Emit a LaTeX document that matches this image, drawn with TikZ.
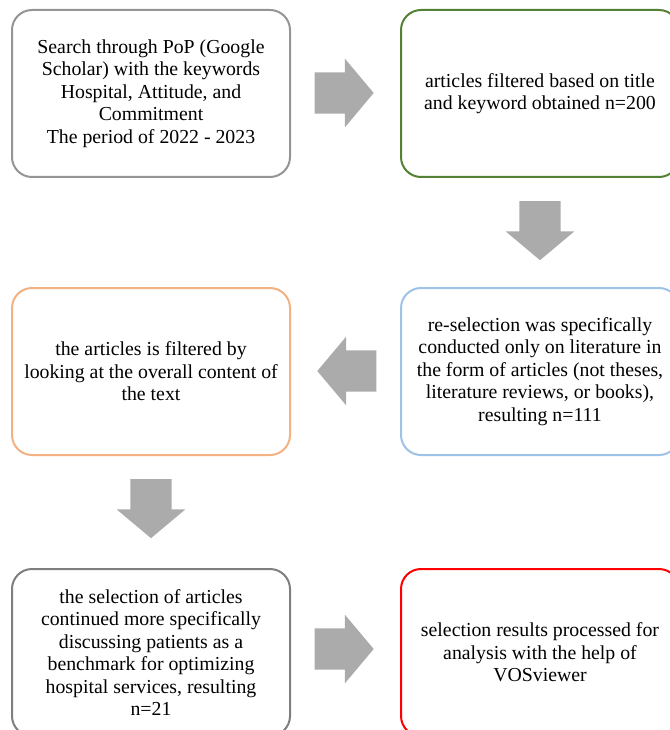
\documentclass[tikz,border=0pt]{standalone}
\usepackage{fontspec}
\setmainfont{Liberation Serif}
\usetikzlibrary{shapes.arrows,calc}

\definecolor{boxgray}{HTML}{959595}
\definecolor{boxgreen}{HTML}{548235}
\definecolor{boxorange}{HTML}{F4B183}
\definecolor{boxblue}{HTML}{9DC3E6}
\definecolor{boxdark}{HTML}{7F7F7F}
\definecolor{boxred}{HTML}{FF0000}
\definecolor{arrowgray}{HTML}{ABABAB}

\tikzset{
  stepbox/.style={draw, line width=2pt, rounded corners=20pt, minimum width=278pt,
    minimum height=167pt, align=center, inner sep=0pt,
    font=\fontsize{19.8}{22.5}\selectfont},
  blockarrow/.style={single arrow, fill=arrowgray, draw=none, inner xsep=0pt,
    inner ysep=20.5pt, minimum height=59pt, single arrow head extend=13.5pt,
    single arrow tip angle=100}
}

\begin{document}
\begin{tikzpicture}[x=1pt, y=-1pt]
  \useasboundingbox (0,0) rectangle (669,730);
  % boxes, row by row
  \node[stepbox, draw=boxgray] (search) at (151,93.5)
    {Search through PoP (Google\\Scholar) with the keywords\\Hospital, Attitude, and\\Commitment\\The period of 2022 - 2023};
  \node[stepbox, draw=boxgreen] (title) at (540,93.5)
    {articles filtered based on title\\and keyword obtained n=200};
  \node[stepbox, draw=boxblue] (reselect) at (540,371.5)
    {re-selection was specifically\\conducted only on literature in\\the form of articles (not theses,\\literature reviews, or books),\\resulting n=111};
  \node[stepbox, draw=boxorange] (content) at (151,371.5)
    {the articles is filtered by\\looking at the overall content of\\the text};
  \node[stepbox, draw=boxdark] (patients) at (151,652.5)
    {the selection of articles\\continued more specifically\\discussing patients as a\\benchmark for optimizing\\hospital services, resulting\\n=21};
  \node[stepbox, draw=boxred] (vos) at (540,652.5)
    {selection results processed for\\analysis with the help of\\VOSviewer};
  % block arrows between the boxes
  \node[blockarrow] (a1) at (335.5,93) {};
  \node[blockarrow, rotate=-90] (a2) at (540,222) {};
  \node[blockarrow, rotate=180] (a3) at (355.5,371) {};
  \node[blockarrow, rotate=-90] (a4) at (151,500) {};
  \node[blockarrow] (a5) at (335.5,649) {};
\end{tikzpicture}
\end{document}
